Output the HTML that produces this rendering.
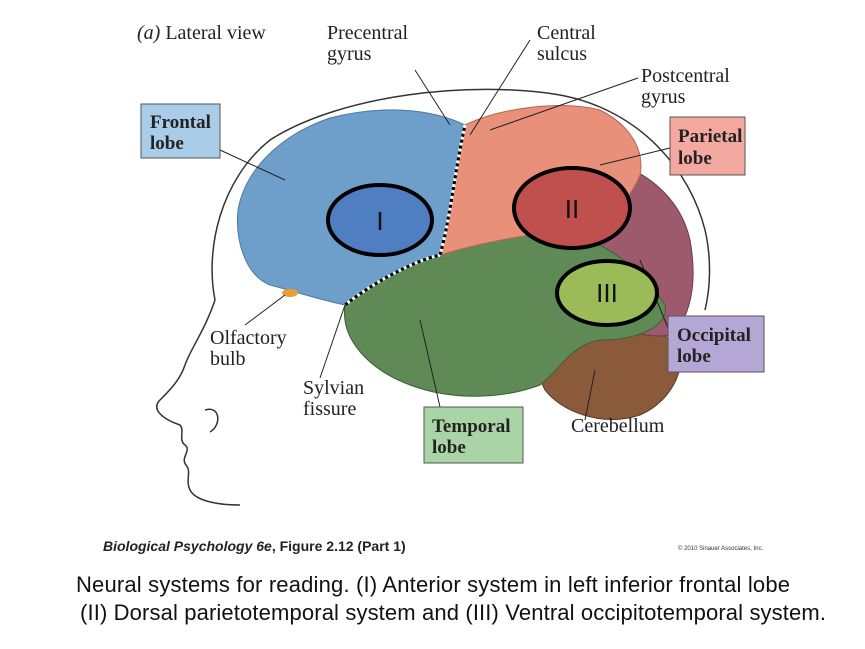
<!DOCTYPE html>
<html><head><meta charset="utf-8"><style>
html,body{margin:0;padding:0;background:#fff;width:865px;height:649px;overflow:hidden}
svg{display:block}
.lbl{font-family:"Liberation Serif",serif;font-size:20px;fill:#222}
.bl{font-family:"Liberation Serif",serif;font-size:19px;font-weight:bold;fill:#222}
.cap{font-family:"Liberation Sans",sans-serif;font-size:22px;fill:#111}
</style></head><body>
<svg width="865" height="649" viewBox="0 0 865 649">
<path d="M215,300 C205,250 220,180 270,140 C340,95 470,80 560,95 C640,110 690,170 705,230 C712,260 710,290 705,310" fill="none" stroke="#333" stroke-width="1.5"/>
<path d="M215,300 C205,330 190,350 185,365 C180,380 170,390 160,400 C150,410 165,420 180,425 C185,430 178,440 185,445 C192,450 180,458 186,465 C192,472 185,480 190,490 C195,500 215,505 240,505" fill="none" stroke="#333" stroke-width="1.5"/>
<path d="M205,410 C220,405 222,425 210,432" fill="none" stroke="#333" stroke-width="1.5"/>
<path d="M540,340 C570,330 640,325 675,340 C690,360 675,400 640,415 C600,428 560,410 545,390 C535,370 530,350 540,340Z" fill="#8a5a3a" stroke="#5a3a22"/>
<path d="M600,160 C640,165 680,195 690,240 C698,285 690,320 670,335 C640,340 610,325 590,300 L585,200Z" fill="#9c5a6c" stroke="#6e3a4a"/>
<path d="M345,305 C380,275 420,260 440,255 C480,240 520,225 560,230 C600,240 640,265 665,305 C670,325 640,340 600,340 C570,345 560,370 540,385 C500,400 450,400 410,385 C370,370 340,340 345,305Z" fill="#5f8a55" stroke="#3e6036"/>
<path d="M465,125 C500,108 560,100 600,110 C630,125 645,150 640,175 C630,200 610,220 585,230 C540,232 490,240 440,255 C450,220 455,170 465,125Z" fill="#e8907a" stroke="#b36652"/>
<path d="M465,125 C455,170 450,220 440,255 C410,262 370,285 345,305 C320,300 290,290 270,285 C245,275 235,240 238,210 C245,170 280,135 330,118 C380,105 430,108 465,125Z" fill="#6e9fcb" stroke="#4a7aa6"/>
<path d="M465,125 C455,170 450,220 440,255" fill="none" stroke="#fff" stroke-width="3" stroke-dasharray="3,3"/>
<path d="M440,255 C410,262 370,285 345,305" fill="none" stroke="#fff" stroke-width="3" stroke-dasharray="3,3"/>
<path d="M465,125 C455,170 450,220 440,255 C410,262 370,285 345,305" fill="none" stroke="#000" stroke-width="3" stroke-dasharray="3,3" stroke-dashoffset="3"/>
<ellipse cx="290" cy="293" rx="8" ry="4" fill="#e8a030"/>
<g stroke="#222" stroke-width="1" fill="none">
<line x1="220" y1="150" x2="285" y2="180"/>
<line x1="415" y1="70" x2="450" y2="125"/>
<line x1="530" y1="40" x2="470" y2="135"/>
<line x1="638" y1="78" x2="490" y2="130"/>
<line x1="670" y1="148" x2="600" y2="165"/>
<line x1="668" y1="328" x2="640" y2="260"/>
<line x1="440" y1="407" x2="420" y2="320"/>
<line x1="585" y1="420" x2="595" y2="370"/>
<line x1="320" y1="378" x2="345" y2="305"/>
<line x1="245" y1="325" x2="285" y2="295"/>
</g>
<ellipse cx="380" cy="220" rx="52" ry="35" fill="#4f7ec2" stroke="#000" stroke-width="4"/>
<text x="380" y="230" text-anchor="middle" class="cap" style="font-size:26px">I</text>
<ellipse cx="572" cy="208" rx="58" ry="40" fill="#c0504d" stroke="#000" stroke-width="4"/>
<text x="572" y="218" text-anchor="middle" class="cap" style="font-size:26px">II</text>
<ellipse cx="607" cy="293" rx="50" ry="32" fill="#9bbb59" stroke="#000" stroke-width="4"/>
<text x="607" y="302" text-anchor="middle" class="cap" style="font-size:26px">III</text>
<rect x="141" y="104" width="79" height="54" fill="#a9cce9" stroke="#555"/>
<text class="bl" x="150" y="128">Frontal</text><text class="bl" x="150" y="149">lobe</text>
<rect x="670" y="117" width="75" height="58" fill="#f4a9a0" stroke="#555"/>
<text class="bl" x="678" y="142">Parietal</text><text class="bl" x="678" y="164">lobe</text>
<rect x="668" y="316" width="96" height="56" fill="#b4a7d6" stroke="#555"/>
<text class="bl" x="677" y="341">Occipital</text><text class="bl" x="677" y="362">lobe</text>
<rect x="424" y="407" width="99" height="56" fill="#a9d5a6" stroke="#555"/>
<text class="bl" x="432" y="432">Temporal</text><text class="bl" x="432" y="453">lobe</text>
<text class="lbl" x="137" y="39"><tspan font-style="italic">(a)</tspan> Lateral view</text>
<text class="lbl" x="327" y="39">Precentral</text><text class="lbl" x="327" y="60">gyrus</text>
<text class="lbl" x="537" y="39">Central</text><text class="lbl" x="537" y="60">sulcus</text>
<text class="lbl" x="641" y="82">Postcentral</text><text class="lbl" x="641" y="103">gyrus</text>
<text class="lbl" x="210" y="344">Olfactory</text><text class="lbl" x="210" y="365">bulb</text>
<text class="lbl" x="303" y="394">Sylvian</text><text class="lbl" x="303" y="415">fissure</text>
<text class="lbl" x="571" y="432">Cerebellum</text>
<text x="103" y="551" style="font-family:'Liberation Sans',sans-serif;font-size:14px;font-weight:bold;font-style:italic;fill:#222">Biological Psychology 6e<tspan font-style="normal">, Figure 2.12 (Part 1)</tspan></text>
<text x="678" y="550" style="font-family:'Liberation Sans',sans-serif;font-size:6px;fill:#333">© 2010 Sinauer Associates, Inc.</text>
<text class="cap" x="433" y="592" text-anchor="middle" textLength="714">Neural systems for reading. (I) Anterior system in left inferior frontal lobe</text>
<text class="cap" x="453" y="620" text-anchor="middle" textLength="746">(II) Dorsal parietotemporal system and (III) Ventral occipitotemporal system.</text>
</svg>
</body></html>
